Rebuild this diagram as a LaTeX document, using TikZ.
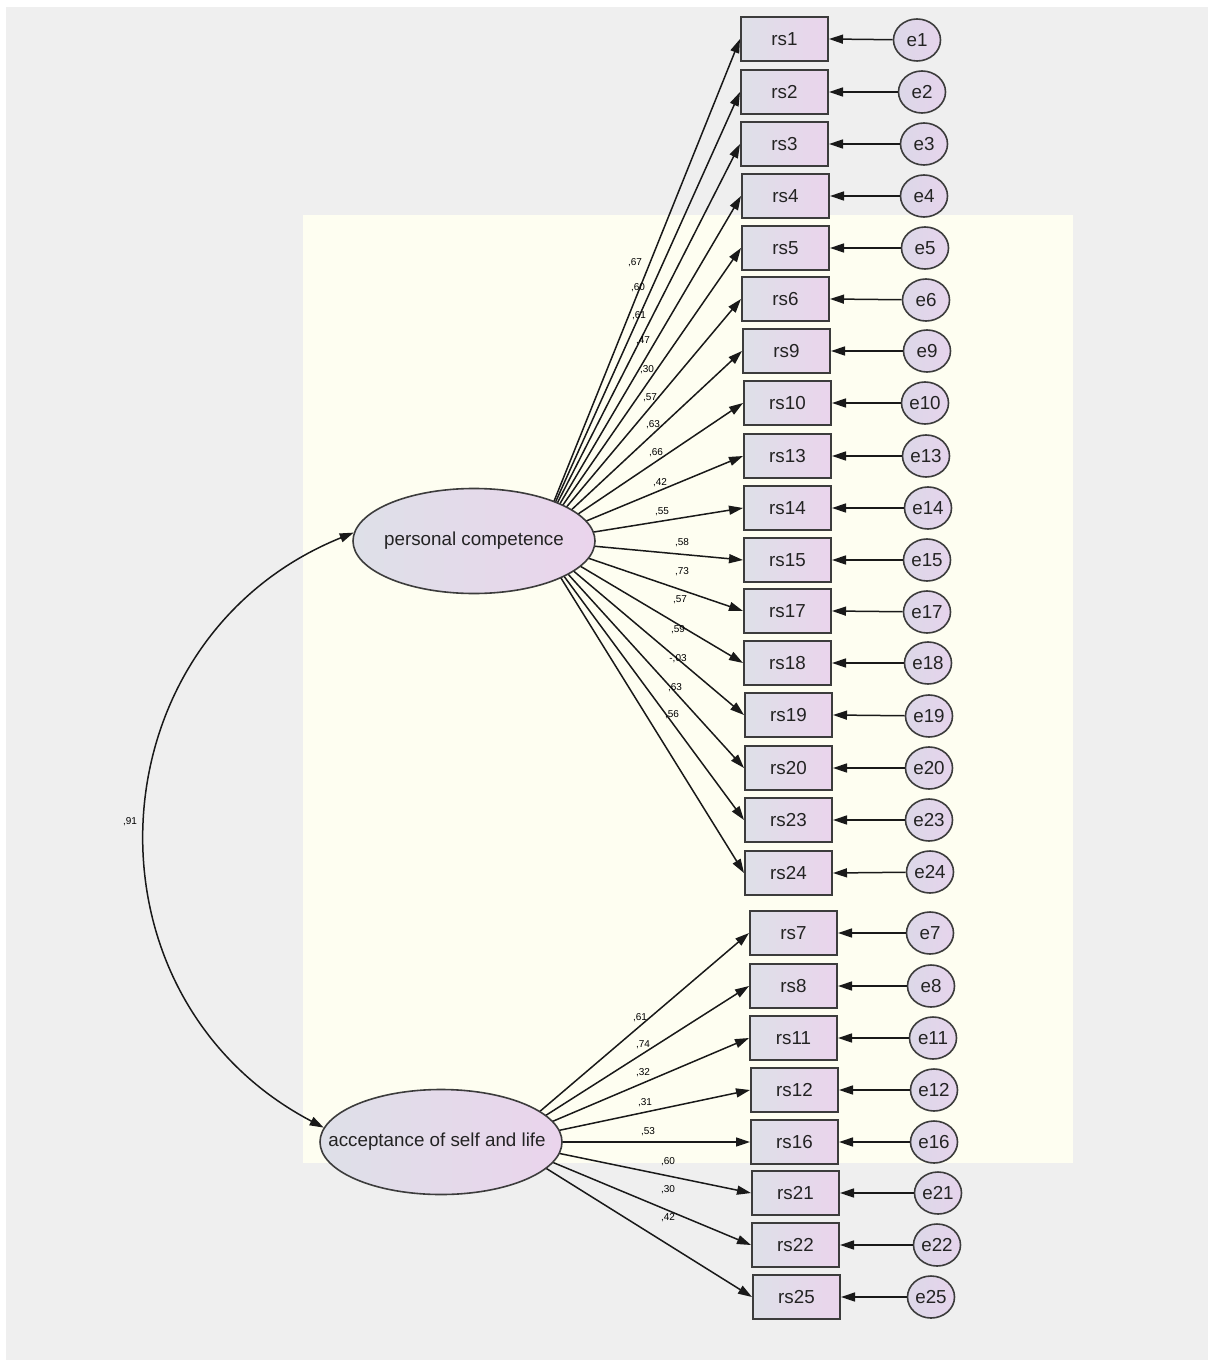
\documentclass[tikz,border=0pt]{standalone}
\usepackage{fontspec}
\setmainfont{Liberation Sans}
\usetikzlibrary{arrows.meta,shapes.geometric}
\pgfdeclarelayer{bg}
\pgfdeclarelayer{mid}
\pgfsetlayers{bg,mid,main}
\definecolor{pagegray}{RGB}{239,239,239}
\definecolor{cream}{RGB}{254,254,241}
\definecolor{boxleft}{RGB}{222,224,232}
\definecolor{boxright}{RGB}{234,212,236}
\definecolor{errleft}{RGB}{220,216,232}
\definecolor{errright}{RGB}{230,212,236}
\definecolor{edgegray}{RGB}{60,60,60}
\definecolor{inkgray}{RGB}{35,35,35}

\begin{document}
\begin{tikzpicture}[x=0.5pt,y=-0.5pt,
  obs/.style={draw=edgegray, line width=1pt, rectangle, minimum width=43.5pt,
    minimum height=22pt, inner sep=0pt, left color=boxleft, right color=boxright,
    text=inkgray, font=\fontsize{9.4}{11}\selectfont},
  err/.style={draw=edgegray, line width=0.8pt, ellipse, minimum width=23.5pt,
    minimum height=21pt, inner sep=0pt, left color=errleft, right color=errright,
    text=inkgray, font=\fontsize{9.4}{11}\selectfont},
  lat/.style={draw=edgegray, line width=0.8pt, ellipse, minimum width=121pt,
    minimum height=52.5pt, inner sep=0pt, left color=boxleft, right color=boxright},
  latname/.style={inner sep=0pt, text=inkgray, font=\fontsize{9.4}{11}\selectfont},
  regpath/.style={-{Triangle[length=7pt,width=4.5pt]}, line width=0.75pt, draw=black!90},
  covpath/.style={{Triangle[length=7pt,width=4.5pt]}-{Triangle[length=7pt,width=4.5pt]},
    line width=0.75pt, draw=black!90},
  coef/.style={inner sep=0pt, text=black, font=\fontsize{5}{6}\selectfont}
]

% canvas and model area
\begin{pgfonlayer}{bg}
  \fill[white] (0,0) rectangle (1215,1363);
  \fill[pagegray] (6,7) rectangle (1208,1360);
  \fill[cream] (303,215) rectangle (1073,1163);
\end{pgfonlayer}
\useasboundingbox (0,0) rectangle (1215,1363);

% latent factors
\node[lat] (pc) at (474,541) {};
\node[latname] (pcname) at (474,541) {personal competence};
\node[lat] (acc) at (441,1142) {};
\node[latname] (accname) at (437,1142) {acceptance of self and life};
\coordinate (pcsrc) at (538,541);
\coordinate (accsrc) at (504,1142);

% observed items with their error terms
\foreach \n/\bx/\by/\ex/\ey in {
  1/784.5/39/917/40, 2/784.5/92/922/92, 3/784.5/144/924/144,
  4/785.5/196/924/196, 5/785.5/248/925/248, 6/785.5/299/926/300,
  9/786.5/351/927/351, 10/787.5/403/925/403, 13/787.5/456/926/456,
  14/787.5/508/928/508, 15/787.5/560/927/560, 17/787.5/611/927/612,
  18/787.5/663/928/663, 19/788.5/715/929/716, 20/788.5/768/929/768,
  23/788.5/820/929/820, 24/788.5/873/930/872,
  7/793.5/933/930/933, 8/793.5/986/931/986, 11/793.5/1038/933/1038,
  12/794.5/1090/934/1090, 16/794.5/1142/934/1142, 21/795.5/1193/938/1193,
  22/795.5/1245/937/1245, 25/796.5/1297/931/1297}{
  \node[obs] (rs\n) at (\bx,\by) {rs\n};
  \node[err] (e\n) at (\ex,\ey) {e\n};
  \draw[regpath] (e\n) -- (rs\n.east);
}

% loadings of personal competence
\begin{pgfonlayer}{mid}
\foreach \n/\c/\lx/\ly in {
  1/{,67}/635/263, 2/{,60}/638/288, 3/{,61}/639/316, 4/{,47}/643/341,
  5/{,30}/647/370, 6/{,57}/650/398, 9/{,63}/653/425, 10/{,66}/656/453,
  13/{,42}/660/483, 14/{,55}/662/512, 15/{,58}/682/543, 17/{,73}/682/572,
  18/{,57}/680/600, 19/{,59}/678/630, 20/{-,03}/678/659, 23/{,63}/675/688,
  24/{,56}/672/715}{
  \draw[regpath] (pcsrc) -- (rs\n.west);
  \node[coef] (l\n) at (\lx,\ly) {\c};
}

% loadings of acceptance of self and life
\foreach \n/\c/\lx/\ly in {
  7/{,61}/640/1018, 8/{,74}/643/1045, 11/{,32}/643/1073, 12/{,31}/645/1103,
  16/{,53}/648/1132, 21/{,60}/668/1162, 22/{,30}/668/1190, 25/{,42}/668/1218}{
  \draw[regpath] (accsrc) -- (rs\n.west);
  \node[coef] (l\n) at (\lx,\ly) {\c};
}
\end{pgfonlayer}

% factor covariance
\draw[covpath] (pc.176) .. controls (91,639) and (73,996) .. (acc.173);
\node[coef] (r) at (130,822) {,91};

\end{tikzpicture}
\end{document}
